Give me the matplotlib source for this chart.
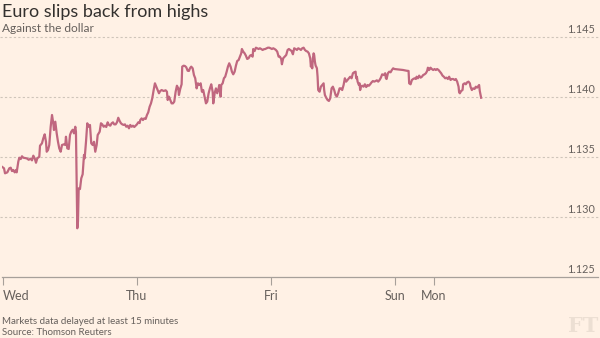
import matplotlib
matplotlib.use('Agg')
import matplotlib.pyplot as plt
import matplotlib.transforms as mtransforms

# EUR/USD, hours of trading time since Wednesday 00:00 and the rate
wednesday = [
    (-0.2, 1.13419), (0.18, 1.13406), (0.36, 1.13364), (0.77, 1.13372), (1.13, 1.13406),
    (1.38, 1.13411), (1.61, 1.13383), (1.84, 1.13392), (2.10, 1.13372), (2.33, 1.13392),
    (2.45, 1.13372), (2.74, 1.13461), (2.92, 1.13494), (3.17, 1.13483), (3.40, 1.13506),
    (3.64, 1.13494), (4.24, 1.13489), (4.60, 1.13477), (4.96, 1.13486), (5.19, 1.13472),
    (5.43, 1.13511), (5.68, 1.13489), (5.91, 1.13452), (6.14, 1.13489), (6.50, 1.13502),
    (6.63, 1.13594), (6.98, 1.13614), (7.22, 1.13656), (7.47, 1.13689), (7.70, 1.13627),
    (7.83, 1.13544), (8.06, 1.13558), (8.29, 1.13600), (8.54, 1.13752), (8.78, 1.13850),
    (9.01, 1.13781), (9.13, 1.13725), (9.37, 1.13794), (9.62, 1.13697), (9.85, 1.13627),
    (10.08, 1.13572), (10.33, 1.13544), (10.57, 1.13600), (10.93, 1.13606), (11.16, 1.13600),
    (11.28, 1.13669), (11.52, 1.13572), (11.77, 1.13567), (12.00, 1.13683), (12.23, 1.13711),
    (12.48, 1.13727), (12.72, 1.13697), (12.95, 1.13752), (13.07, 1.13711), (13.31, 1.12906),
    (13.43, 1.12961), (13.56, 1.13239), (13.79, 1.13233), (14.02, 1.13322), (14.27, 1.13356),
    (14.51, 1.13517), (14.63, 1.13489), (14.87, 1.13627), (15.10, 1.13781), (15.35, 1.13752),
    (15.58, 1.13767), (15.81, 1.13614), (16.07, 1.13600), (16.30, 1.13627), (16.53, 1.13544),
    (16.78, 1.13600), (16.96, 1.13683), (17.32, 1.13711), (17.55, 1.13781), (17.78, 1.13772),
    (18.04, 1.13752), (18.27, 1.13761), (18.50, 1.13750), (18.75, 1.13789), (18.98, 1.13767),
    (19.22, 1.13761), (19.47, 1.13781), (19.70, 1.13789), (19.93, 1.13772), (20.18, 1.13772),
    (20.42, 1.13789), (20.65, 1.13827), (20.90, 1.13800), (21.13, 1.13781), (21.37, 1.13772),
    (21.62, 1.13767), (21.85, 1.13772), (22.08, 1.13752), (22.33, 1.13761), (22.57, 1.13739),
    (22.80, 1.13767), (23.05, 1.13752), (23.28, 1.13761), (23.52, 1.13750), (23.77, 1.13761),
]
thursday = [
    (24.00, 1.13772), (24.23, 1.13789), (24.48, 1.13783), (24.59, 1.13808), (24.84, 1.13822),
    (25.07, 1.13808), (25.31, 1.13822), (25.56, 1.13817), (25.79, 1.13850), (26.02, 1.13872),
    (26.27, 1.13919), (26.51, 1.13947), (26.74, 1.13989), (26.99, 1.14058), (27.22, 1.14114),
    (27.46, 1.14086), (27.71, 1.14058), (27.94, 1.14031), (28.17, 1.14050), (28.42, 1.14058),
    (28.78, 1.14050), (29.14, 1.14056), (29.37, 1.14044), (29.50, 1.13975), (29.73, 1.14003),
    (29.96, 1.13975), (30.21, 1.13947), (30.45, 1.13947), (30.68, 1.13961), (30.93, 1.14044),
    (31.16, 1.14094), (31.40, 1.14072), (31.52, 1.14017), (31.75, 1.14067), (32.00, 1.14106),
    (32.11, 1.14253), (32.36, 1.14261), (32.60, 1.14258), (32.83, 1.14248), (33.08, 1.14219),
    (33.31, 1.14217), (33.49, 1.14239), (33.72, 1.14253), (33.98, 1.14239), (34.21, 1.14183),
    (34.44, 1.14156), (34.69, 1.14072), (34.92, 1.14114), (35.16, 1.14100), (35.41, 1.14114),
    (35.64, 1.14044), (35.87, 1.14058), (36.12, 1.14003), (36.36, 1.13947), (36.59, 1.13961),
    (36.84, 1.14031), (37.07, 1.14072), (37.31, 1.14106), (37.56, 1.14044), (37.67, 1.13947),
    (37.92, 1.14031), (38.15, 1.14072), (38.38, 1.14031), (38.63, 1.14072), (38.74, 1.14100),
    (38.99, 1.14003), (39.10, 1.14100), (39.35, 1.14114), (39.58, 1.14156), (39.81, 1.14169),
    (40.07, 1.14211), (40.30, 1.14253), (40.53, 1.14281), (40.78, 1.14253), (41.01, 1.14211),
    (41.25, 1.14189), (41.50, 1.14211), (41.73, 1.14261), (41.96, 1.14300), (42.21, 1.14308),
    (42.45, 1.14336), (42.68, 1.14364), (42.80, 1.14400), (43.04, 1.14378), (43.29, 1.14364),
    (43.52, 1.14344), (43.75, 1.14317), (44.00, 1.14323), (44.24, 1.14344), (44.47, 1.14350),
    (44.72, 1.14336), (44.83, 1.14400), (45.08, 1.14383), (45.31, 1.14411), (45.55, 1.14406),
    (45.80, 1.14400), (46.03, 1.14406), (46.26, 1.14400), (46.51, 1.14392), (46.74, 1.14398),
    (46.98, 1.14400), (47.23, 1.14406), (47.46, 1.14411), (47.69, 1.14411), (47.94, 1.14406),
]
friday = [
    (48.18, 1.14400), (48.41, 1.14406), (48.66, 1.14400), (48.89, 1.14392), (49.13, 1.14378),
    (49.38, 1.14336), (49.61, 1.14336), (49.84, 1.14317), (49.97, 1.14273), (50.20, 1.14323),
    (50.45, 1.14336), (50.74, 1.14350), (50.99, 1.14392), (51.22, 1.14400), (51.46, 1.14392),
    (51.71, 1.14383), (51.94, 1.14356), (52.17, 1.14406), (52.42, 1.14400), (52.66, 1.14392),
    (52.89, 1.14406), (53.14, 1.14400), (53.37, 1.14392), (53.61, 1.14406), (53.86, 1.14411),
    (54.09, 1.14392), (54.32, 1.14383), (54.57, 1.14378), (54.80, 1.14364), (55.04, 1.14323),
    (55.16, 1.14253), (55.29, 1.14281), (55.40, 1.14239), (55.52, 1.14323), (55.65, 1.14364),
    (55.75, 1.14350), (55.88, 1.14294), (56.01, 1.14261), (56.11, 1.14253), (56.24, 1.14239),
    (56.36, 1.14169), (56.47, 1.14058), (56.72, 1.14044), (56.95, 1.14086), (57.19, 1.14100),
    (57.44, 1.14114), (57.54, 1.14058), (57.67, 1.14017), (57.90, 1.13994), (58.15, 1.13975),
    (58.39, 1.13967), (58.62, 1.13989), (58.87, 1.14072), (59.10, 1.14086), (59.33, 1.14058),
    (59.58, 1.14017), (59.82, 1.14003), (60.05, 1.14031), (60.30, 1.14072), (60.54, 1.14072),
    (60.77, 1.14058), (61.02, 1.14100), (61.25, 1.14156), (61.48, 1.14128), (61.73, 1.14142),
    (61.97, 1.14156), (62.20, 1.14169), (62.45, 1.14156), (62.69, 1.14198), (62.92, 1.14206),
    (63.17, 1.14211), (63.27, 1.14156), (63.40, 1.14169), (63.53, 1.14128), (63.76, 1.14100),
    (63.88, 1.14114), (63.99, 1.14058), (64.12, 1.14086), (64.35, 1.14094), (64.60, 1.14086),
    (64.83, 1.14106), (65.07, 1.14083), (65.32, 1.14100), (65.55, 1.14094), (65.78, 1.14106),
    (66.03, 1.14122), (66.27, 1.14133), (66.50, 1.14128), (66.75, 1.14133), (66.98, 1.14139),
    (67.22, 1.14128), (67.47, 1.14142), (67.70, 1.14161), (67.93, 1.14189), (68.24, 1.14183),
    (68.47, 1.14198), (68.60, 1.14156), (68.72, 1.14150), (68.96, 1.14198), (69.19, 1.14211),
    (69.44, 1.14206), (69.67, 1.14225), (69.90, 1.14239), (70.15, 1.14233),
]
sunday_monday = [
    (70.51, 1.14231), (71.10, 1.14228), (71.69, 1.14225), (72.30, 1.14219), (72.66, 1.14217),
    (72.77, 1.14114), (73.02, 1.14106), (73.26, 1.14142), (73.49, 1.14150), (73.74, 1.14156),
    (73.97, 1.14150), (74.10, 1.14169), (74.33, 1.14156), (74.56, 1.14178), (74.81, 1.14161),
    (75.05, 1.14169), (75.28, 1.14183), (75.53, 1.14189), (75.76, 1.14198), (75.99, 1.14217),
    (76.12, 1.14244), (76.24, 1.14239), (76.35, 1.14225), (76.60, 1.14244), (76.83, 1.14233),
    (77.07, 1.14225), (77.32, 1.14233), (77.55, 1.14225), (77.78, 1.14233), (78.03, 1.14225),
    (78.27, 1.14211), (78.50, 1.14198), (78.75, 1.14178), (78.98, 1.14169), (79.22, 1.14156),
    (79.47, 1.14161), (79.70, 1.14150), (79.93, 1.14169), (80.18, 1.14142), (80.42, 1.14150),
    (80.65, 1.14150), (80.90, 1.14142), (81.13, 1.14150), (81.37, 1.14128), (81.62, 1.14086),
    (81.72, 1.14039), (81.85, 1.14031), (82.08, 1.14050), (82.33, 1.14058), (82.44, 1.14106),
    (82.69, 1.14114), (82.92, 1.14106), (83.15, 1.14122), (83.40, 1.14128), (83.64, 1.14114),
    (83.76, 1.14086), (84.00, 1.14058), (84.23, 1.14072), (84.48, 1.14067), (84.71, 1.14086),
    (84.94, 1.14078), (85.19, 1.14094), (85.30, 1.14100), (85.42, 1.14050), (85.66, 1.13994),
]

day_ticks = [0, 24, 48, 70.2, 77.2]
day_labels = ['Wed', 'Thu', 'Fri', 'Sun', 'Mon']
rate_ticks = [1.125, 1.130, 1.135, 1.140, 1.145]

hours, rates = zip(*(wednesday + thursday + friday + sunday_monday))

BG = '#fff1e5'
LINE = '#c0677f'
TEXT = '#33302e'
MUTED = '#66605c'
AXIS = '#a7a09a'
GRID = '#cfc5ba'

plt.rcParams['font.family'] = ['Lato', 'DejaVu Sans']

fig = plt.figure(figsize=(6, 3.38), dpi=100, facecolor=BG)
ax = fig.add_axes([2 / 600, 61 / 338, 596 / 600, 240 / 338])
ax.set_facecolor(BG)

# dotted gridlines run the full width of the figure
for r in rate_ticks[1:]:
    ax.axhline(r, xmin=-0.004, xmax=1.0, color=GRID, lw=0.8, ls=(0, (2, 2)),
               zorder=1, clip_on=False)

ax.plot(hours, rates, color=LINE, lw=1.6, solid_joinstyle='round', zorder=3)

ax.set_xlim(-0.18, 106.6)
ax.set_ylim(1.125, 1.145)

for s in ['top', 'left', 'right']:
    ax.spines[s].set_visible(False)
ax.spines['bottom'].set_color(AXIS)
ax.spines['bottom'].set_linewidth(0.9)

ax.set_yticks([])
ax.set_xticks(day_ticks, day_labels)
ax.tick_params(axis='x', length=6, width=0.8, color=AXIS, labelsize=9,
               labelcolor=MUTED, pad=3)
ax.get_xticklabels()[0].set_horizontalalignment('left')

# rate labels sit on top of their gridlines at the right edge
trans = mtransforms.blended_transform_factory(ax.transAxes, ax.transData)
for r in rate_ticks:
    ax.text(0.995, r + 0.0002, f'{r:.3f}', transform=trans, ha='right', va='bottom',
            fontsize=7.8, color=MUTED)

fig.text(0.004, 0.9488, 'Euro slips back from highs', fontsize=13, color=TEXT,
         va='baseline')
fig.text(0.004, 0.9044, 'Against the dollar', fontsize=8.6, color=MUTED, va='baseline')
fig.text(0.004, 0.040, 'Markets data delayed at least 15 minutes', fontsize=7,
         color=MUTED, va='baseline')
fig.text(0.004, 0.0074, 'Source: Thomson Reuters', fontsize=7, color=MUTED,
         va='baseline')
fig.text(0.997, 0.006, 'FT', fontsize=15, fontweight='bold', family='DejaVu Serif',
         color='#ecdfd3', ha='right', va='bottom')

fig.savefig('out.png', dpi=100, facecolor=BG)
